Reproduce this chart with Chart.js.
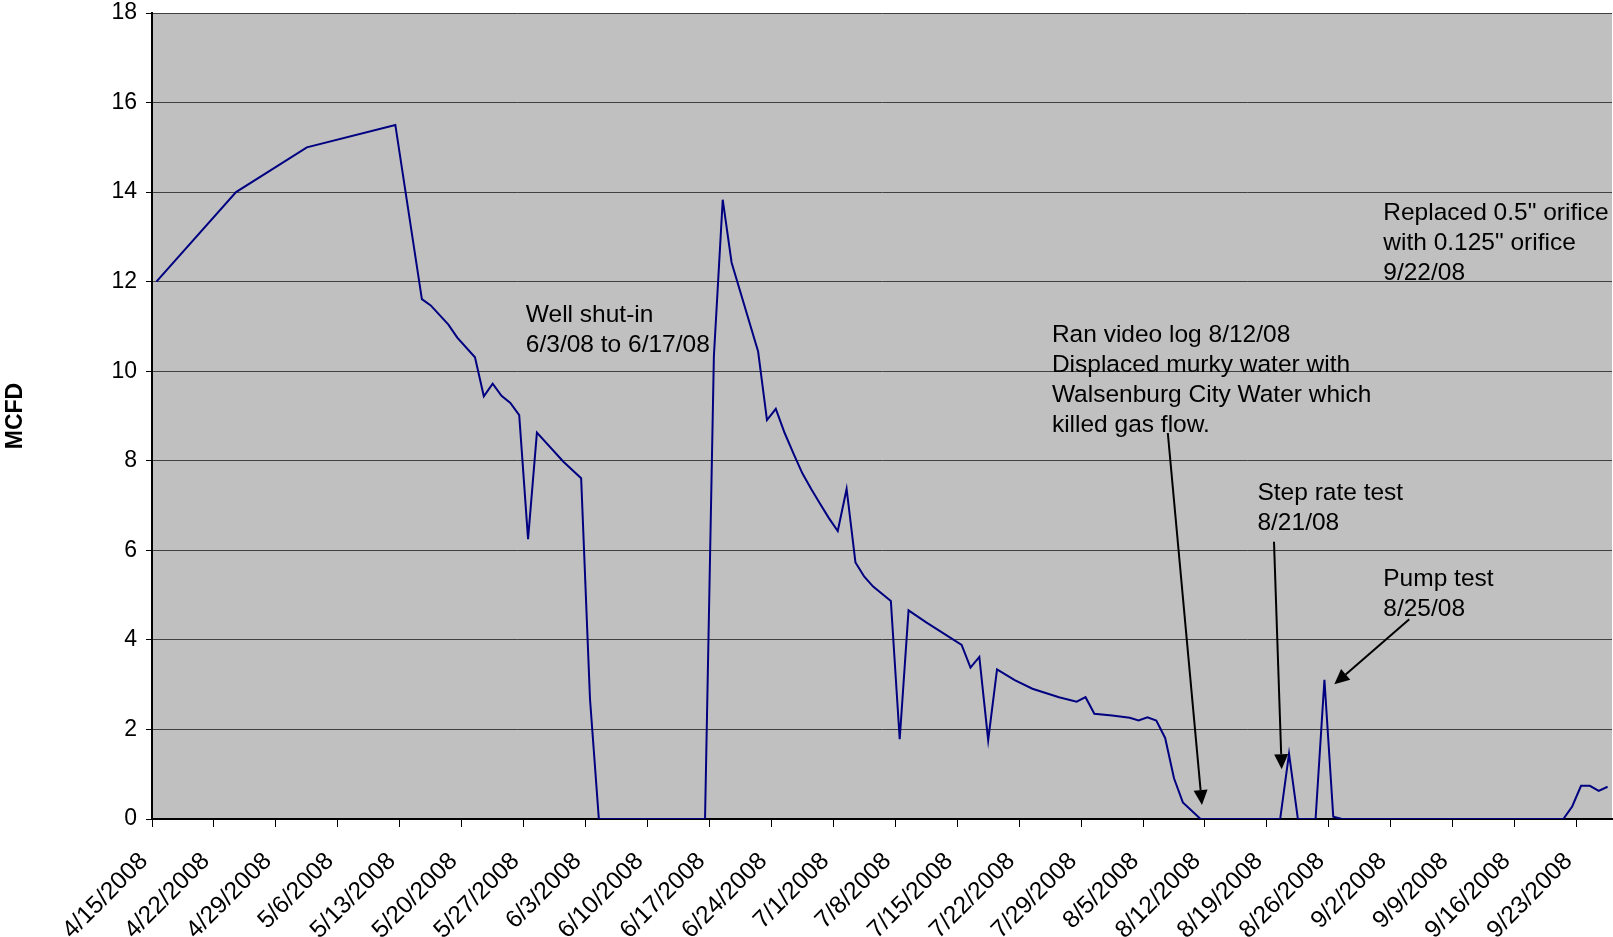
<!DOCTYPE html>
<html>
<head>
<meta charset="utf-8">
<script src="https://cdn.jsdelivr.net/npm/chart.js@4.4.0/dist/chart.umd.min.js"></script>
<style>
  body { margin: 0; background: #fff; overflow: hidden; }
  canvas { display: block; }
</style>
</head>
<body>
<canvas id="flowChart" width="1613" height="937"></canvas>
<script>
// Gas flow readings (MCFD) by date
const dates = [
  '2008-04-15', '2008-04-24', '2008-05-02', '2008-05-12', '2008-05-15', '2008-05-16',
  '2008-05-18', '2008-05-19', '2008-05-21', '2008-05-22', '2008-05-23', '2008-05-24',
  '2008-05-25', '2008-05-26', '2008-05-27', '2008-05-28', '2008-05-31', '2008-06-02',
  '2008-06-03', '2008-06-04', '2008-06-16', '2008-06-17', '2008-06-18', '2008-06-19',
  '2008-06-22', '2008-06-23', '2008-06-24', '2008-06-25', '2008-06-26', '2008-06-27',
  '2008-06-28', '2008-06-29', '2008-06-30', '2008-07-01', '2008-07-02', '2008-07-03',
  '2008-07-04', '2008-07-05', '2008-07-07', '2008-07-08', '2008-07-09', '2008-07-11',
  '2008-07-15', '2008-07-16', '2008-07-17', '2008-07-18', '2008-07-19', '2008-07-21',
  '2008-07-23', '2008-07-26', '2008-07-28', '2008-07-29', '2008-07-30', '2008-08-01',
  '2008-08-03', '2008-08-04', '2008-08-05', '2008-08-06', '2008-08-07', '2008-08-08',
  '2008-08-09', '2008-08-11', '2008-08-20', '2008-08-21', '2008-08-22', '2008-08-24',
  '2008-08-25', '2008-08-26', '2008-08-27', '2008-09-21', '2008-09-22', '2008-09-23',
  '2008-09-24', '2008-09-25', '2008-09-26'
];
const mcfd = [
  12.0, 14.0, 15.0, 15.5, 11.61, 11.47,
  11.04, 10.75, 10.31, 9.44, 9.72, 9.45,
  9.29, 9.02, 6.25, 8.63, 7.98, 7.61,
  2.68, 0, 0, 10.33, 13.83, 12.43,
  10.44, 8.91, 9.16, 8.62, 8.16, 7.72,
  7.37, 7.04, 6.72, 6.43, 7.37, 5.73,
  5.41, 5.19, 4.87, 1.78, 4.66, 4.39,
  3.89, 3.38, 3.62, 1.76, 3.34, 3.10,
  2.91, 2.72, 2.62, 2.72, 2.35, 2.31,
  2.26, 2.20, 2.27, 2.20, 1.81, 0.91,
  0.37, 0, 0, 1.46, 0, 0,
  3.11, 0.05, 0, 0, 0.28, 0.74,
  0.74, 0.63, 0.72
];

// Weekly tick labels on the date axis
const tickLabels = [
  '4/15/2008', '4/22/2008', '4/29/2008', '5/6/2008', '5/13/2008', '5/20/2008',
  '5/27/2008', '6/3/2008', '6/10/2008', '6/17/2008', '6/24/2008', '7/1/2008',
  '7/8/2008', '7/15/2008', '7/22/2008', '7/29/2008', '8/5/2008', '8/12/2008',
  '8/19/2008', '8/26/2008', '9/2/2008', '9/9/2008', '9/16/2008', '9/23/2008'
];
const yTicks = [0, 2, 4, 6, 8, 10, 12, 14, 16, 18];

// Notes on the chart, anchored in axis units (days since 4/15/2008, MCFD)
const notes = [
  { x: 42.25, y: 11.11, lines: ['Well shut-in', '6/3/08 to 6/17/08'] },
  { x: 101.7, y: 10.66, lines: ['Ran video log 8/12/08', 'Displaced murky water with', 'Walsenburg City Water which', 'killed gas flow.'] },
  { x: 124.93, y: 7.13, lines: ['Step rate test', '8/21/08'] },
  { x: 139.15, y: 5.20, lines: ['Pump test', '8/25/08'] },
  { x: 139.15, y: 13.38, lines: ['Replaced 0.5" orifice', 'with 0.125" orifice', '9/22/08'] }
];
const arrows = [
  { from: [114.8, 8.62], to: [118.66, 0.31] },
  { from: [126.8, 6.19], to: [127.67, 1.11] },
  { from: [142.09, 4.46], to: [133.62, 3.01] }
];

const FONT = '"Liberation Sans", Arial, sans-serif';
const START = Date.UTC(2008, 3, 15);

function dayOffset(iso) {
  return (Date.parse(iso) - START) / 86400000;
}

// points sit in the middle of their day, like the original date axis
const points = dates.map((d, i) => ({ x: dayOffset(d) + 0.5, y: mcfd[i] }));

const plotBackground = {
  id: 'plotBackground',
  beforeDraw(chart) {
    const { ctx, chartArea } = chart;
    ctx.save();
    ctx.fillStyle = '#ffffff';
    ctx.fillRect(0, 0, chart.width, chart.height);
    ctx.fillStyle = '#c0c0c0';
    ctx.fillRect(chartArea.left, chartArea.top, chartArea.right - chartArea.left, chartArea.bottom - chartArea.top);
    ctx.restore();
  }
};

const noteLayer = {
  id: 'noteLayer',
  afterDatasetsDraw(chart) {
    const { ctx } = chart;
    const xs = chart.scales.x;
    const ys = chart.scales.y;
    ctx.save();
    ctx.fillStyle = '#000';
    ctx.font = '24.5px ' + FONT;
    ctx.textAlign = 'left';
    ctx.textBaseline = 'alphabetic';
    notes.forEach(n => {
      const px = xs.getPixelForValue(n.x);
      const py = ys.getPixelForValue(n.y);
      n.lines.forEach((line, i) => ctx.fillText(line, px, py + i * 30));
    });

    ctx.strokeStyle = '#000';
    ctx.lineWidth = 2;
    arrows.forEach(a => {
      const x1 = xs.getPixelForValue(a.from[0]), y1 = ys.getPixelForValue(a.from[1]);
      const x2 = xs.getPixelForValue(a.to[0]), y2 = ys.getPixelForValue(a.to[1]);
      const ang = Math.atan2(y2 - y1, x2 - x1);
      const headLen = 15, headHalf = 7;
      const bx = x2 - headLen * Math.cos(ang), by = y2 - headLen * Math.sin(ang);
      ctx.beginPath();
      ctx.moveTo(x1, y1);
      ctx.lineTo(bx, by);
      ctx.stroke();
      ctx.beginPath();
      ctx.moveTo(x2, y2);
      ctx.lineTo(bx + headHalf * Math.sin(ang), by - headHalf * Math.cos(ang));
      ctx.lineTo(bx - headHalf * Math.sin(ang), by + headHalf * Math.cos(ang));
      ctx.closePath();
      ctx.fill();
    });
    ctx.restore();
  }
};

new Chart(document.getElementById('flowChart'), {
  type: 'line',
  data: {
    datasets: [{
      label: 'MCFD',
      data: points,
      borderColor: '#000080',
      borderWidth: 2,
      pointRadius: 0,
      tension: 0,
      fill: false
    }]
  },
  options: {
    responsive: false,
    animation: false,
    devicePixelRatio: 1,
    layout: { padding: { top: 13, right: 1, left: 0, bottom: 0 } },
    plugins: {
      legend: { display: false },
      tooltip: { enabled: false }
    },
    scales: {
      x: {
        type: 'linear',
        min: 0,
        max: 165,
        afterBuildTicks: scale => {
          scale.ticks = tickLabels.map((t, i) => ({ value: i * 7 }));
        },
        afterFit: scale => {
          scale.height = 118;
          scale.paddingLeft = 0;
          scale.paddingRight = 0;
        },
        ticks: {
          autoSkip: false,
          minRotation: 45,
          maxRotation: 45,
          padding: 20,
          labelOffset: -8,
          color: '#000',
          font: { family: FONT, size: 24.5 },
          callback: (val, idx) => tickLabels[idx]
        },
        grid: {
          drawOnChartArea: false,
          drawTicks: true,
          tickLength: 8,
          color: '#000'
        },
        border: { color: '#000', width: 2 }
      },
      y: {
        min: 0,
        max: 18,
        afterBuildTicks: scale => {
          scale.ticks = yTicks.map(v => ({ value: v }));
        },
        afterFit: scale => {
          scale.width = 152;
          scale.paddingTop = 0;
          scale.paddingBottom = 0;
        },
        ticks: {
          padding: 9,
          color: '#000',
          font: { family: FONT, size: 23 }
        },
        grid: {
          color: '#404040',
          lineWidth: 1,
          tickLength: 6,
          tickColor: '#000'
        },
        border: { color: '#000', width: 2 },
        title: {
          display: true,
          text: 'MCFD',
          color: '#000',
          font: { family: FONT, size: 23, weight: 'bold' },
          padding: { top: 2, bottom: 0 }
        }
      }
    }
  },
  plugins: [plotBackground, noteLayer]
});
</script>
</body>
</html>
